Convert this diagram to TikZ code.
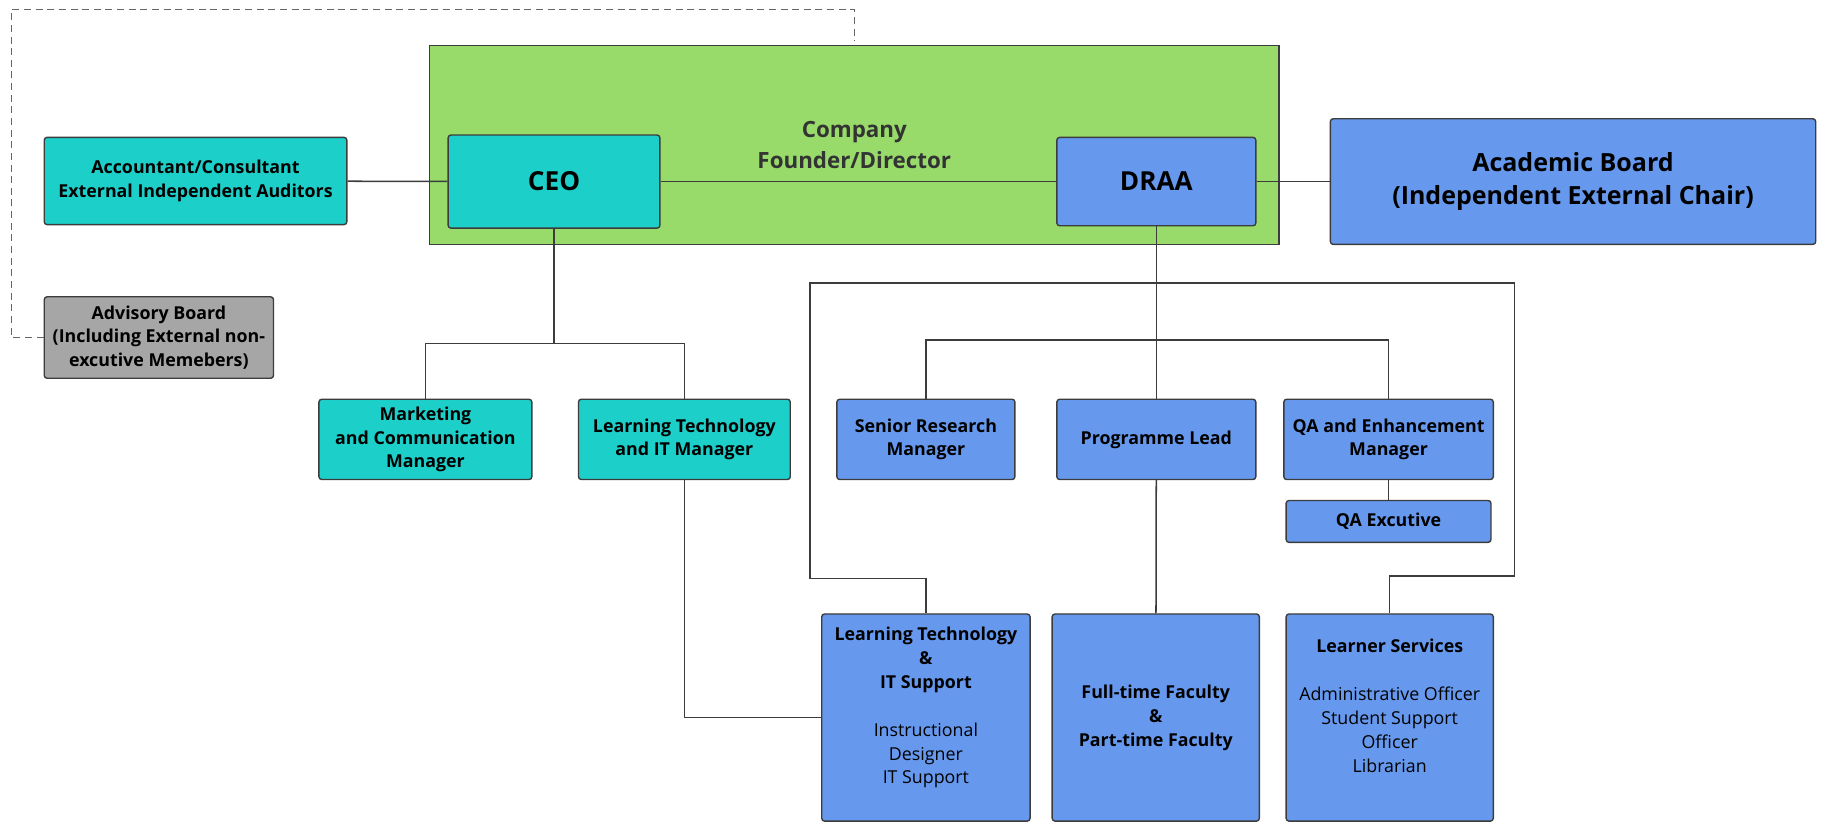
\documentclass[tikz,border=0pt]{standalone}
\usepackage{fontspec}
\setmainfont{Open Sans}
\usetikzlibrary{backgrounds}
\definecolor{tealbox}{HTML}{1DCFC9}
\definecolor{bluebox}{HTML}{6699EE}
\definecolor{greenbox}{HTML}{98DB6B}
\definecolor{greybox}{HTML}{A6A6A6}
\definecolor{edgegrey}{HTML}{3C3C3C}
\tikzset{
  box/.style={shape=rectangle,rounded corners=2.5pt,draw=edgegrey,line width=1.2pt,inner sep=0pt,align=center,font=\fontsize{15.3}{20.5}\selectfont\bfseries},
  tealnode/.style={box,fill=tealbox},
  bluenode/.style={box,fill=bluebox},
  bignode/.style={font=\fontsize{22.5}{26}\selectfont\bfseries},
  link/.style={draw=edgegrey,line width=1.3pt}
}
\begin{document}
\begin{tikzpicture}[x=1pt,y=-1pt]
\useasboundingbox (0,0) rectangle (1568,706);
\node[tealnode,minimum width=260pt,minimum height=75pt] (acct) at (168,155.5) {Accountant/Consultant\\External Independent Auditors};
\node[tealnode,bignode,minimum width=182pt,minimum height=80pt] (ceo) at (476,156) {CEO};
\node[bluenode,bignode,minimum width=171pt,minimum height=76pt] (draa) at (993.5,156) {DRAA};
\node[bluenode,minimum width=417pt,minimum height=108pt,font=\fontsize{21.5}{28.5}\selectfont\bfseries] (acad) at (1351.5,156) {Academic Board\\(Independent External Chair)};
\node[box,fill=greybox,minimum width=197pt,minimum height=70pt] (adv) at (136.5,290) {Advisory Board\\(Including External non-\\excutive Memebers)};

\node[tealnode,minimum width=183pt,minimum height=69pt] (mkt) at (365.5,377.5) {Marketing\\and Communication\\Manager};
\node[tealnode,minimum width=182pt,minimum height=69pt] (ltman) at (588,377.5) {Learning Technology\\and IT Manager};
\node[bluenode,minimum width=153pt,minimum height=69pt] (senior) at (795.5,377.5) {Senior Research\\Manager};
\node[bluenode,minimum width=171pt,minimum height=69pt] (prog) at (993.5,377.5) {Programme Lead};
\node[bluenode,minimum width=180pt,minimum height=69pt] (qaman) at (1193,377.5) {QA and Enhancement\\Manager};
\node[bluenode,minimum width=176pt,minimum height=36pt] (qaex) at (1193,448) {QA Excutive};

\node[bluenode,minimum width=179pt,minimum height=178pt] (ltsup) at (795.5,616.5) {Learning Technology\\\&\\IT Support\\[20.5pt]\mdseries Instructional\\\mdseries Designer\\\mdseries IT Support\\\mbox{}};
\node[bluenode,minimum width=178pt,minimum height=178pt] (ftf) at (993,616.5) {Full-time Faculty\\\&\\Part-time Faculty};
\node[bluenode,minimum width=178pt,minimum height=178pt] (lserv) at (1194,616.5) {Learner Services\\[20.5pt]\mdseries Administrative Officer\\\mdseries Student Support\\\mdseries Officer\\\mdseries Librarian\\\mbox{}};

\coordinate (ceoj) at (476,295);
\coordinate (draaj) at (993.5,243);
\coordinate (rowj) at (993.5,292);
\coordinate (loopl) at (696,497);
\coordinate (loopr) at (1301,495);
\coordinate (dashc) at (10,8);
\coordinate (dashe) at (734,35);

\begin{pgfonlayer}{background}
\node[shape=rectangle,draw=edgegrey,line width=1.2pt,fill=greenbox,minimum width=730pt,minimum height=171pt,align=center,text=black!80,font=\fontsize{19.2}{26}\selectfont\bfseries] (founder) at (734,124.5) {Company\\Founder/Director};
\path [link] (acct) edge (ceo);
\path [link] (ceo) edge (draa);
\path [link] (draa) edge (acad);
\path [link] (ceo) edge (ceoj);
\draw [link] (ceoj) -| (mkt.north);
\draw [link] (ceoj) -| (ltman.north);
\draw [link] (ltman.south) |- (ltsup.west);
\path [link] (draa) edge (prog);
\draw [link] (rowj) -| (senior.north);
\draw [link] (rowj) -| (qaman.north);
\path [link] (qaman) edge (qaex);
\path [link] (prog) edge (ftf);
\draw [link] (draaj) -| (loopl) -| (ltsup.north);
\draw [link] (draaj) -| (loopr) -| (lserv.north);
\draw [link,dashed,dash pattern=on 6pt off 4pt,line width=1.1pt,draw=black!60] (adv.west) -| (dashc) -| (dashe);
\end{pgfonlayer}
\end{tikzpicture}
\end{document}
